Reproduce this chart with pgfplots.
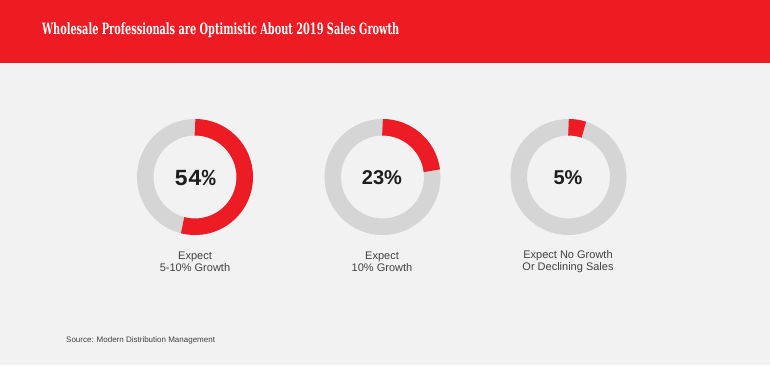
\documentclass[border=0pt]{standalone}
\usepackage{pgfplots}
\usepackage{pgfplotstable}
\usepackage{graphicx}
\usepackage{fontspec}
\pgfplotsset{compat=1.18}
\setmainfont{Liberation Sans}
\newfontfamily\titlefont{DejaVu Serif}
\newfontfamily\monofont{Liberation Mono}
\definecolor{hdrred}{HTML}{ED1C24}
\definecolor{ringgray}{HTML}{D5D5D5}
\definecolor{bg}{HTML}{F2F2F2}
\definecolor{txt}{HTML}{1E1E1E}
\pgfplotstableread{
cx   pct
195  54
382.5 23
568.5 5
}\donuts
\pgfplotstablegetelem{0}{pct}\of\donuts \let\pA\pgfplotsretval
\pgfplotstablegetelem{1}{pct}\of\donuts \let\pB\pgfplotsretval
\pgfplotstablegetelem{2}{pct}\of\donuts \let\pC\pgfplotsretval
\pgfplotstablegetelem{0}{cx}\of\donuts \let\xA\pgfplotsretval
\pgfplotstablegetelem{1}{cx}\of\donuts \let\xB\pgfplotsretval
\pgfplotstablegetelem{2}{cx}\of\donuts \let\xC\pgfplotsretval
\begin{document}
\begin{tikzpicture}
\begin{axis}[
  width=770pt, height=365pt, scale only axis,
  xmin=0, xmax=770, ymin=0, ymax=365,
  hide axis, clip=false,
]
\fill[bg] (axis cs:0,0) rectangle (axis cs:770,365);
\fill[hdrred] (axis cs:0,301.7) rectangle (axis cs:770,365);
\node[anchor=base west, inner sep=0, text=white] at (axis cs:42,330)
  {\resizebox{357pt}{\height}{\titlefont\fontsize{15.5}{20}\selectfont\bfseries Wholesale Professionals are Optimistic About 2019 Sales Growth}};
% donuts
\draw[ringgray, line width=16.5pt] (axis cs:\xA,188) circle[radius=49.75pt];
\draw[ringgray, line width=16.5pt] (axis cs:\xB,188) circle[radius=49.75pt];
\draw[ringgray, line width=16.5pt] (axis cs:\xC,188) circle[radius=49.75pt];
\draw[hdrred, line width=16.5pt] (axis cs:\xA,188) ++(90:49.75pt) arc[start angle=90, delta angle=-\pA*3.6, radius=49.75pt];
\draw[hdrred, line width=16.5pt] (axis cs:\xB,188) ++(90:49.75pt) arc[start angle=90, delta angle=-\pB*3.6, radius=49.75pt];
\draw[hdrred, line width=16.5pt] (axis cs:\xC,188) ++(90:49.75pt) arc[start angle=90, delta angle=-\pC*3.6, radius=49.75pt];
% center numbers
\node[text=txt, inner sep=0] at (axis cs:195,187) {\monofont\fontsize{23}{26}\selectfont\bfseries 54\%};
\node[text=txt, inner sep=0] at (axis cs:382,187) {\fontsize{20}{24}\selectfont\bfseries 23\%};
\node[text=txt, inner sep=0] at (axis cs:568,187) {\fontsize{20}{24}\selectfont\bfseries 5\%};
% labels
\node[text=txt!85, inner sep=0, align=center, font=\fontsize{11}{12}\selectfont] at (axis cs:195,103) {Expect\\5-10\% Growth};
\node[text=txt!85, inner sep=0, align=center, font=\fontsize{11}{12}\selectfont] at (axis cs:382,103) {Expect\\10\% Growth};
\node[text=txt!85, inner sep=0, align=center, font=\fontsize{11}{12}\selectfont] at (axis cs:568,103) {Expect No Growth\\Or Declining Sales};
% source
\node[anchor=west, text=txt!85, inner sep=0, font=\fontsize{8}{9}\selectfont] at (axis cs:66,25) {Source: Modern Distribution Management};
\end{axis}
\end{tikzpicture}
\end{document}
